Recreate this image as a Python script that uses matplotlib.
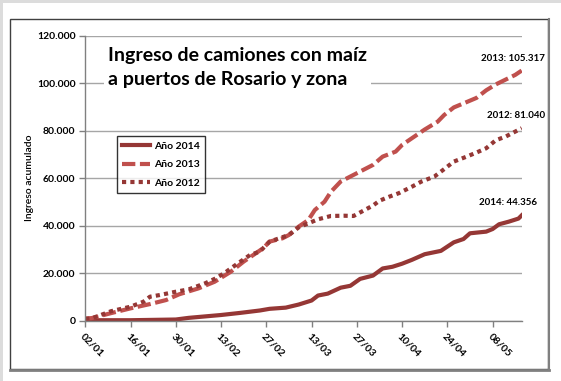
"""Ingreso acumulado de camiones con maiz a puertos de Rosario: 2014 vs 2013 vs 2012."""

import matplotlib
matplotlib.use("Agg")
import matplotlib.pyplot as plt
import pandas as pd
from matplotlib.patches import Rectangle

plt.rcParams["font.family"] = ["Lato", "DejaVu Sans"]

START = pd.Timestamp("2014-01-02")

# dias desde 02/01 y miles de camiones acumulados
days_2014 = [0, 14, 28, 32, 42, 48, 54, 57, 62, 66, 70, 72, 75, 79, 82, 85, 89, 92, 95,
             98, 101, 105, 110, 114, 117, 119, 124, 126, 128, 131, 134, 135]
vals_2014 = [0.2, 0.2, 0.5, 1.2, 2.4, 3.3, 4.3, 5.0, 5.5, 6.8, 8.5, 10.6, 11.4, 13.9, 14.7,
             17.6, 19.0, 22.0, 22.7, 24.0, 25.6, 28.0, 29.4, 33.0, 34.4, 36.8, 37.5, 38.6,
             40.6, 41.7, 43.0, 44.356]

days_2013 = [0, 2, 8, 14, 20, 25, 29, 35, 40, 45, 49, 52, 55, 57, 61, 63, 66, 69, 71, 74,
             76, 79, 83, 86, 89, 92, 96, 98, 101, 105, 109, 111, 114, 117, 121, 124, 127,
             130, 133, 135]
vals_2013 = [0.9, 1.1, 3.2, 5.2, 7.0, 8.7, 11.1, 13.6, 16.4, 20.6, 24.9, 27.7, 30.5, 33.3,
             34.7, 36.1, 39.6, 42.4, 46.6, 50.1, 54.3, 58.6, 61.4, 63.5, 65.6, 69.1, 71.2,
             74.0, 76.8, 80.5, 83.8, 86.6, 89.8, 91.5, 93.8, 97.0, 99.5, 101.5, 103.5, 105.317]

days_2012 = [0, 2, 8, 14, 18, 20, 23, 28, 32, 37, 40, 43, 45, 48, 51, 54, 57, 60, 63, 66,
             69, 72, 76, 80, 83, 86, 89, 91, 94, 97, 101, 104, 108, 111, 114, 118, 121, 124,
             127, 130, 135]
vals_2012 = [0.8, 1.0, 4.0, 5.9, 8.0, 10.1, 10.8, 12.2, 13.2, 15.7, 17.6, 20.0, 22.0, 24.9,
             27.7, 29.1, 33.3, 34.7, 36.1, 39.3, 41.0, 42.7, 44.1, 44.2, 44.1, 46.3, 48.5,
             50.5, 52.2, 53.7, 56.4, 58.6, 60.7, 63.8, 67.0, 69.1, 70.8, 72.6, 76.0, 77.5,
             81.04]

tick_days = list(range(0, 135, 14))
tick_labels = [(START + pd.Timedelta(days=d)).strftime("%d/%m") for d in tick_days]
y_ticks = [0, 20000, 40000, 60000, 80000, 100000, 120000]
y_labels = ["0", "20.000", "40.000", "60.000", "80.000", "100.000", "120.000"]

DARK = "#953735"
LIGHT = "#C0504D"
BOLD = "bold"

fig = plt.figure(figsize=(5.61, 3.81), dpi=100)
fig.patch.set_facecolor("white")

# marco exterior gris claro (arriba/izquierda) y borde del grafico
fig.add_artist(Rectangle((0, 1 - 3 / 381), 1, 3 / 381, transform=fig.transFigure,
                         facecolor="#dcdcdc", edgecolor="none"))
fig.add_artist(Rectangle((0, 0), 3 / 561, 1, transform=fig.transFigure,
                         facecolor="#dcdcdc", edgecolor="none"))
fig.add_artist(Rectangle((10 / 561, 1 - 369 / 381), 538 / 561, 350 / 381,
                         transform=fig.transFigure, facecolor="none",
                         edgecolor="#404040", linewidth=1.0))
fig.add_artist(plt.Line2D([10 / 561, 549 / 561], [1 - 369.5 / 381] * 2,
                          transform=fig.transFigure, color="#808080", linewidth=2.0))
fig.add_artist(plt.Line2D([548.5 / 561] * 2, [1 - 369.5 / 381, 1 - 19 / 381],
                          transform=fig.transFigure, color="#808080", linewidth=1.5))

ax = fig.add_axes([85.3 / 561, 1 - 320.7 / 381, 436.4 / 561, 285 / 381])

ax.plot(days_2014, [v * 1000 for v in vals_2014], color=DARK, linewidth=3.0,
        solid_joinstyle="round", label="Año 2014")
ax.plot(days_2013, [v * 1000 for v in vals_2013], color=LIGHT, linewidth=3.0,
        dashes=(3.2, 1.1), dash_capstyle="butt", label="Año 2013")
ax.plot(days_2012, [v * 1000 for v in vals_2012], color=DARK, linewidth=3.0,
        dashes=(1, 1), dash_capstyle="butt", label="Año 2012")

ax.set_xlim(0, 135)
ax.set_ylim(0, 120000)
ax.set_yticks(y_ticks)
ax.set_yticklabels(y_labels, fontsize=7.5, fontweight=BOLD)
ax.set_xticks(tick_days)
ax.set_xticklabels(tick_labels, fontsize=7.5, fontweight=BOLD, rotation=-45,
                   ha="left", va="top", rotation_mode="anchor")
ax.tick_params(axis="both", direction="out", length=4, color="#808080", width=1)
ax.tick_params(axis="x", pad=4)
ax.tick_params(axis="y", pad=3)
for s in ("top", "right"):
    ax.spines[s].set_visible(False)
for s in ("left", "bottom"):
    ax.spines[s].set_color("#808080")
    ax.spines[s].set_linewidth(1)
ax.yaxis.grid(True, color="#a6a6a6", linewidth=1)
ax.set_axisbelow(True)
ax.set_ylabel("Ingreso acumulado", fontsize=7.5, fontweight="semibold")
ax.yaxis.set_label_coords(-0.118, 0.5)

leg = ax.legend(loc="upper left", bbox_to_anchor=(0.073, 0.648),
                prop={"weight": BOLD, "size": 7.5}, frameon=True, fancybox=False,
                borderpad=0.5, handlelength=2.7, labelspacing=0.9, handletextpad=0.3,
                borderaxespad=0)
leg.get_frame().set_edgecolor("black")
leg.get_frame().set_linewidth(1)

ax.text(0.052, 0.96, "Ingreso de camiones con maíz\na puertos de Rosario y zona",
        transform=ax.transAxes, fontsize=14, fontweight=BOLD, ha="left", va="top",
        linespacing=1.5, bbox=dict(facecolor="white", edgecolor="none", pad=3))

ann_kw = dict(fontsize=7, fontweight=BOLD, ha="right", va="center", clip_on=False)
ax.text(142.3, 110200, "2013: 105.317", **ann_kw)
ax.text(142.3, 86200, "2012: 81.040", **ann_kw)
ax.text(139.8, 49600, "2014: 44.356", **ann_kw)

fig.savefig("out.png", dpi=100)
